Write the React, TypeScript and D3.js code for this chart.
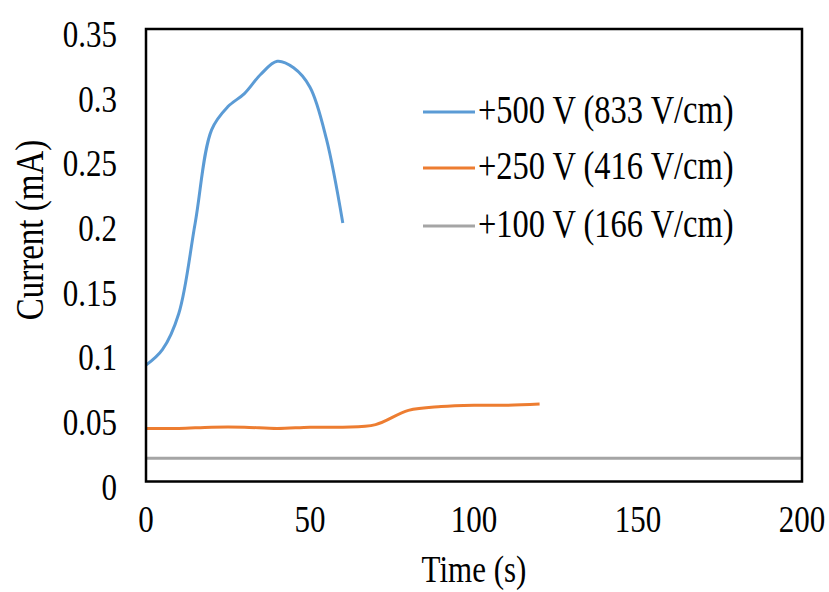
import React from "react";
import * as d3 from "d3";

const blueT = [0, 5, 10, 15, 20, 25, 30, 35, 40, 45, 50, 55, 60];
const blueV = [0.09, 0.102, 0.13, 0.2, 0.272, 0.29, 0.3, 0.315, 0.325, 0.32, 0.305, 0.265, 0.2];
const orangeT = [0, 10, 20, 30, 40, 50, 60, 70, 80, 90, 100, 110, 120];
const orangeV = [0.041, 0.041, 0.042, 0.042, 0.041, 0.042, 0.042, 0.044, 0.055, 0.058, 0.059, 0.059, 0.06];
const grayT = [0, 200];
const grayV = [0.018, 0.018];
const seriesNames = ["+500 V (833 V/cm)", "+250 V (416 V/cm)", "+100 V (166 V/cm)"];
const seriesColors = ["#5B9BD5", "#ED7D31", "#A5A5A5"];
const xTicks = [0, 50, 100, 150, 200];
const yTicks = [0, 0.05, 0.1, 0.15, 0.2, 0.25, 0.3, 0.35];
const yTickLabels = ["0", "0.05", "0.1", "0.15", "0.2", "0.25", "0.3", "0.35"];

const W = 829, H = 592;
const L = 146, R = 802, T = 29, B = 481.5;
const SY = 1.2;
const FS = 31;
const FONT = "'Liberation Serif', 'Times New Roman', serif";

function Txt({ x, y, anchor = "start", rotate = 0, size = FS, children }: any) {
  return (
    <text
      transform={`translate(${x},${y}) rotate(${rotate}) scale(1,${SY})`}
      textAnchor={anchor}
      fontFamily={FONT}
      fontSize={size}
      fill="#000"
    >
      {children}
    </text>
  );
}

export default function App() {
  const x = d3.scaleLinear().domain([0, 200]).range([L, R]);
  const y = d3.scaleLinear().domain([0, 0.35]).range([B, T]);
  const line = d3
    .line<[number, number]>()
    .x((d) => x(d[0]))
    .y((d) => y(d[1]))
    .curve(d3.curveCatmullRom.alpha(0.5));
  const series: [number[], number[]][] = [
    [blueT, blueV],
    [orangeT, orangeV],
    [grayT, grayV],
  ];
  const legendX1 = 423, legendX2 = 475, legendTextX = 478;
  const legendY = [112, 168, 226];

  return (
    <svg width={W} height={H} style={{ position: "absolute", left: 0, top: 0, background: "#fff" }}>
      <rect x={0} y={0} width={W} height={H} fill="#fff" />
      {series.map(([ts, vs], i) => (
        <path
          key={i}
          d={line(ts.map((t, j) => [t, vs[j]] as [number, number])) || ""}
          fill="none"
          stroke={seriesColors[i]}
          strokeWidth={3}
          strokeLinecap="butt"
        />
      ))}
      <rect x={L} y={T} width={R - L} height={B - T} fill="none" stroke="#000" strokeWidth={2.5} />
      {yTicks.map((v, i) => (
        <Txt key={i} x={117} y={y(v) + 18} anchor="end">
          {yTickLabels[i]}
        </Txt>
      ))}
      {xTicks.map((v) => (
        <Txt key={v} x={x(v)} y={532} anchor="middle">
          {String(v)}
        </Txt>
      ))}
      <Txt x={(L + R) / 2} y={582} anchor="middle">
        Time (s)
      </Txt>
      <Txt x={43} y={230} anchor="middle" rotate={-90} size={33}>
        Current (mA)
      </Txt>
      {seriesNames.map((n, i) => (
        <g key={n}>
          <line x1={legendX1} x2={legendX2} y1={legendY[i]} y2={legendY[i]} stroke={seriesColors[i]} strokeWidth={3} />
          <Txt x={legendTextX} y={legendY[i] + 11} size={32.5}>
            {n}
          </Txt>
        </g>
      ))}
    </svg>
  );
}
